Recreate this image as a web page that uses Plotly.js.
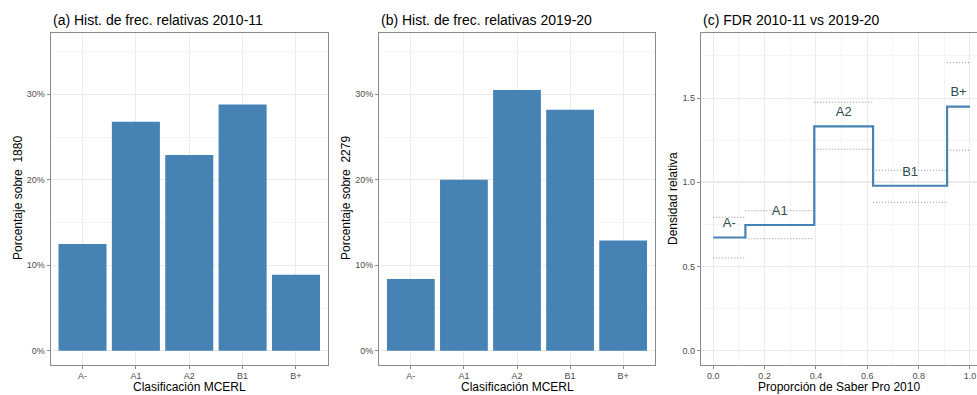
<!DOCTYPE html>
<html>
<head>
<meta charset="utf-8">
<script src="https://cdn.plot.ly/plotly-3.0.1.min.js"></script>
<style>
  html, body { margin: 0; padding: 0; background: #fff; overflow: hidden; }
  #chart { width: 990px; height: 395px; }
</style>
</head>
<body>
<div id="chart"></div>
<script>
// MCERL levels and relative frequencies (%) for the two cohorts
const categories = ['A-', 'A1', 'A2', 'B1', 'B+'];
const pct2010 = [12.5, 26.8, 22.9, 28.8, 8.9];
const pct2019 = [8.4, 20.0, 30.5, 28.2, 12.9];
const n2010 = 1880;
const n2019 = 2279;
// Interval bounds for the relative density of each level
const ciLow = [0.55, 0.665, 1.196, 0.881, 1.19];
const ciHigh = [0.792, 0.831, 1.475, 1.071, 1.71];
// Tick positions
const pctTicks = [0, 10, 20, 30];
const pctTickLabels = ['0%', '10%', '20%', '30%'];
const propTicks = [0, 0.2, 0.4, 0.6, 0.8, 1.0];
const densTicks = [0, 0.5, 1.0, 1.5];

const W = 990, H = 395;
const px = v => v / W;
const py = v => 1 - v / H;

// Cumulative share of the 2010 cohort -> step breakpoints
const total2010 = pct2010.reduce((a, b) => a + b, 0);
const cumEnd = [];
let acc = 0;
pct2010.forEach(p => { acc += p / total2010; cumEnd.push(acc); });
const cumStart = [0].concat(cumEnd.slice(0, -1));
const ratio = pct2019.map((p, i) => p / pct2010[i]);

const steel = '#4682b4';
const tickFont = { family: 'Liberation Sans, Arial, sans-serif', size: 9, color: '#4d4d4d' };
const gridMajor = '#ebebeb';
const gridMinor = '#f5f5f5';
const border = '#8a8a8a';

const yDom = [py(364.5), py(32.5)];

function pctAxis(domainX, anchor) {
  return {
    domain: domainX, anchor: anchor,
    range: [-1.61, 37.23], tickmode: 'array', tickvals: pctTicks, ticktext: pctTickLabels,
    tickfont: tickFont, ticks: 'outside', ticklen: 3, tickcolor: border,
    showgrid: true, gridcolor: gridMajor, zeroline: false,
    minor: { tickvals: [5, 15, 25, 35], showgrid: true, gridcolor: gridMinor, ticks: '' },
    showline: true, mirror: true, linecolor: border, linewidth: 1
  };
}
function catAxis(domainX, anchor) {
  return {
    domain: domainX, anchor: anchor, type: 'category',
    categoryorder: 'array', categoryarray: categories,
    range: [-0.6, 4.6], tickfont: tickFont, ticks: 'outside', ticklen: 3, tickcolor: border,
    showgrid: true, gridcolor: gridMajor, zeroline: false,
    showline: true, mirror: true, linecolor: border, linewidth: 1
  };
}

const traces = [
  { type: 'bar', x: categories, y: pct2010, xaxis: 'x', yaxis: 'y', width: 0.9,
    marker: { color: steel }, hoverinfo: 'skip' },
  { type: 'bar', x: categories, y: pct2019, xaxis: 'x2', yaxis: 'y2', width: 0.9,
    marker: { color: steel }, hoverinfo: 'skip' }
];

// Interval bounds as dotted segments, one per level
const ciX = [], ciLowY = [], ciHighY = [];
categories.forEach((c, i) => {
  ciX.push(cumStart[i], cumEnd[i], null);
  ciLowY.push(ciLow[i], ciLow[i], null);
  ciHighY.push(ciHigh[i], ciHigh[i], null);
});
const dotLine = { color: '#8a8ab0', width: 1, dash: '1px,2px' };
traces.push({ type: 'scatter', mode: 'lines', x: ciX, y: ciLowY, xaxis: 'x3', yaxis: 'y3',
  line: dotLine, connectgaps: false, hoverinfo: 'skip' });
traces.push({ type: 'scatter', mode: 'lines', x: ciX, y: ciHighY, xaxis: 'x3', yaxis: 'y3',
  line: dotLine, connectgaps: false, hoverinfo: 'skip' });

// Relative density step function
traces.push({ type: 'scatter', mode: 'lines', xaxis: 'x3', yaxis: 'y3',
  x: [0].concat(cumEnd), y: ratio.concat([ratio[ratio.length - 1]]),
  line: { color: steel, width: 2.2, shape: 'hv' }, hoverinfo: 'skip' });

// Level labels above each step
traces.push({ type: 'scatter', mode: 'text', xaxis: 'x3', yaxis: 'y3',
  x: categories.map((c, i) => (cumStart[i] + cumEnd[i]) / 2),
  y: ratio.map(r => r + 0.08),
  text: categories,
  textfont: { family: 'Liberation Sans, Arial, sans-serif', size: 13, color: '#2f4f4f' },
  hoverinfo: 'skip' });

const titleFont = { family: 'Liberation Sans, Arial, sans-serif', size: 14, color: '#000' };
const axTitleFont = { family: 'Liberation Sans, Arial, sans-serif', size: 12, color: '#000' };

const annotations = [
  { text: '(a) Hist. de frec. relativas 2010-11', x: px(50.5), y: py(20), xanchor: 'left', yanchor: 'middle', font: titleFont },
  { text: '(b) Hist. de frec. relativas 2019-20', x: px(379), y: py(20), xanchor: 'left', yanchor: 'middle', font: titleFont },
  { text: '(c) FDR 2010-11 vs 2019-20', x: px(700.5), y: py(20), xanchor: 'left', yanchor: 'middle', font: titleFont },
  { text: 'Clasificación MCERL', x: px(189.5), y: py(387), xanchor: 'center', yanchor: 'middle', font: axTitleFont },
  { text: 'Clasificación MCERL', x: px(517), y: py(387), xanchor: 'center', yanchor: 'middle', font: axTitleFont },
  { text: 'Proporción de Saber Pro 2010', x: px(839), y: py(387), xanchor: 'center', yanchor: 'middle', font: axTitleFont },
  { text: 'Porcentaje sobre \u00a0' + n2010, x: px(17.5), y: py(198.5), textangle: -90, xanchor: 'center', yanchor: 'middle', font: axTitleFont },
  { text: 'Porcentaje sobre \u00a0' + n2019, x: px(345.5), y: py(198.5), textangle: -90, xanchor: 'center', yanchor: 'middle', font: axTitleFont },
  { text: 'Densidad relativa', x: px(672.5), y: py(198.5), textangle: -90, xanchor: 'center', yanchor: 'middle', font: axTitleFont }
].map(a => Object.assign({ xref: 'paper', yref: 'paper', showarrow: false }, a));

const layout = {
  width: W, height: H,
  margin: { l: 0, r: 0, t: 0, b: 0 },
  paper_bgcolor: '#fff', plot_bgcolor: '#fff',
  showlegend: false,
  font: { family: 'Liberation Sans, Arial, sans-serif' },
  xaxis: catAxis([px(50.5), px(328)], 'y'),
  yaxis: pctAxis(yDom, 'x'),
  xaxis2: catAxis([px(379), px(655)], 'y2'),
  yaxis2: pctAxis(yDom, 'x2'),
  xaxis3: {
    domain: [px(700.7), px(982.8)], anchor: 'y3',
    range: [-0.049, 1.05], tickmode: 'array', tickvals: propTicks, tickformat: '.1f',
    tickfont: tickFont, ticks: 'outside', ticklen: 3, tickcolor: border,
    showgrid: true, gridcolor: gridMajor, zeroline: false,
    minor: { tickvals: [0.1, 0.3, 0.5, 0.7, 0.9], showgrid: true, gridcolor: gridMinor, ticks: '' },
    showline: true, mirror: true, linecolor: border, linewidth: 1
  },
  yaxis3: {
    domain: yDom, anchor: 'x3',
    range: [-0.082, 1.889], tickmode: 'array', tickvals: densTicks, tickformat: '.1f',
    tickfont: tickFont, ticks: 'outside', ticklen: 3, tickcolor: border,
    showgrid: true, gridcolor: gridMajor, zeroline: false,
    minor: { tickvals: [0.25, 0.75, 1.25, 1.75], showgrid: true, gridcolor: gridMinor, ticks: '' },
    showline: true, mirror: true, linecolor: border, linewidth: 1
  },
  shapes: [
    { type: 'line', xref: 'x3 domain', yref: 'y3', x0: 0, x1: 1, y0: 1, y1: 1,
      line: { color: '#a6a6a6', width: 1 }, layer: 'below' }
  ],
  annotations: annotations
};

Plotly.newPlot('chart', traces, layout, { staticPlot: true, displayModeBar: false });
</script>
</body>
</html>
